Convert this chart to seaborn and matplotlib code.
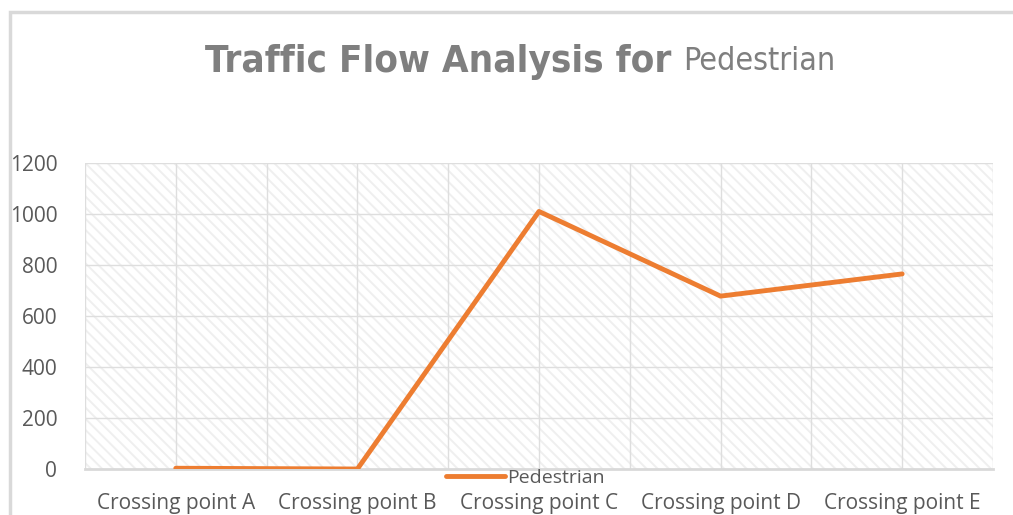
import matplotlib.pyplot as plt
import matplotlib.patches as mpatches
import pandas as pd
import seaborn as sns

# Data
crossing_points = ["Crossing point A", "Crossing point B", "Crossing point C",
                   "Crossing point D", "Crossing point E"]
pedestrian = [3, 0, 1010, 678, 765]
y_ticks = [0, 200, 400, 600, 800, 1000, 1200]

df = pd.DataFrame({"Crossing": crossing_points, "Pedestrian": pedestrian})

sns.set_theme(style="white")
plt.rcParams["font.family"] = ["Open Sans", "DejaVu Sans"]
plt.rcParams["hatch.linewidth"] = 1.4
plt.rcParams["hatch.color"] = "#efefef"

fig = plt.figure(figsize=(10.13, 5.15), dpi=100)
ax = fig.add_axes([0.0839, 0.0893, 0.8963, 0.5942])

# Outer chart border (top and left edges visible)
fig.add_artist(mpatches.Rectangle((10 / 1013, -0.1), 1.2, 1 - 12 / 515 + 0.1,
                                  transform=fig.transFigure, fill=False,
                                  edgecolor="#d9d9d9", linewidth=2.5))

# Hatched plot-area background
ax.patch.set_facecolor("white")
ax.add_patch(mpatches.Rectangle((0, 0), 1, 1, transform=ax.transAxes,
                                facecolor="white", edgecolor="#efefef",
                                hatch="\\\\\\", linewidth=0, zorder=0))

sns.lineplot(data=df, x="Crossing", y="Pedestrian", ax=ax, color="#ED7D31",
             linewidth=3.5, label="Pedestrian", sort=False, zorder=3)

ax.set_xlim(-0.5, 4.5)
ax.set_ylim(0, 1200)
ax.set_yticks(y_ticks)
ax.set_yticklabels([str(v) for v in y_ticks])
ax.set_xticks(range(len(crossing_points)))
ax.set_xticklabels(crossing_points)

# Gridlines every half category and every 200
for xv in [i * 0.5 - 0.5 for i in range(11)]:
    ax.axvline(xv, color="#dedede", linewidth=1.0, zorder=1)
for yv in y_ticks[1:]:
    ax.axhline(yv, color="#dedede", linewidth=1.0, zorder=1)

for side in ["top", "right", "left"]:
    ax.spines[side].set_visible(False)
ax.spines["bottom"].set_color("#d9d9d9")
ax.spines["bottom"].set_linewidth(2)
ax.spines["bottom"].set_zorder(2)

ax.tick_params(axis="x", colors="#595959", labelsize=15, length=0, pad=17)
ax.tick_params(axis="y", colors="#595959", labelsize=15, length=0, pad=20)
ax.set_xlabel("")
ax.set_ylabel("")

ax.legend(loc="center", bbox_to_anchor=(0.485, -0.028), frameon=False,
          fontsize=14, labelcolor="#595959", handlelength=3.0,
          handletextpad=0.1, borderpad=0)

# Title in two parts: bold condensed + regular, placed side by side
title_family = ["DejaVu Sans", "Open Sans"]
t1 = fig.text(205 / 1013, 1 - 62 / 515, "Traffic Flow Analysis for ",
              fontsize=30, fontweight="bold", color="#7f7f7f",
              fontstretch="condensed", family=title_family, va="center")
fig.canvas.draw()
r = fig.canvas.get_renderer()
bb1 = t1.get_window_extent(renderer=r)
t2 = fig.text(bb1.x1 / 1013, 1 - 62 / 515, "Pedestrian", fontsize=25,
              fontstretch="condensed", color="#7f7f7f", family=title_family,
              va="center")
bb2 = t2.get_window_extent(renderer=r)
# scale both to the reference width (205..835 px)
scale = (835 - 205) / (bb2.x1 - bb1.x0)
t1.set_fontsize(30 * scale)
t2.set_fontsize(25 * scale)
fig.canvas.draw()
bb1 = t1.get_window_extent(renderer=r)
t2.set_x(bb1.x1 / 1013)

plt.savefig("out.png", dpi=100)
